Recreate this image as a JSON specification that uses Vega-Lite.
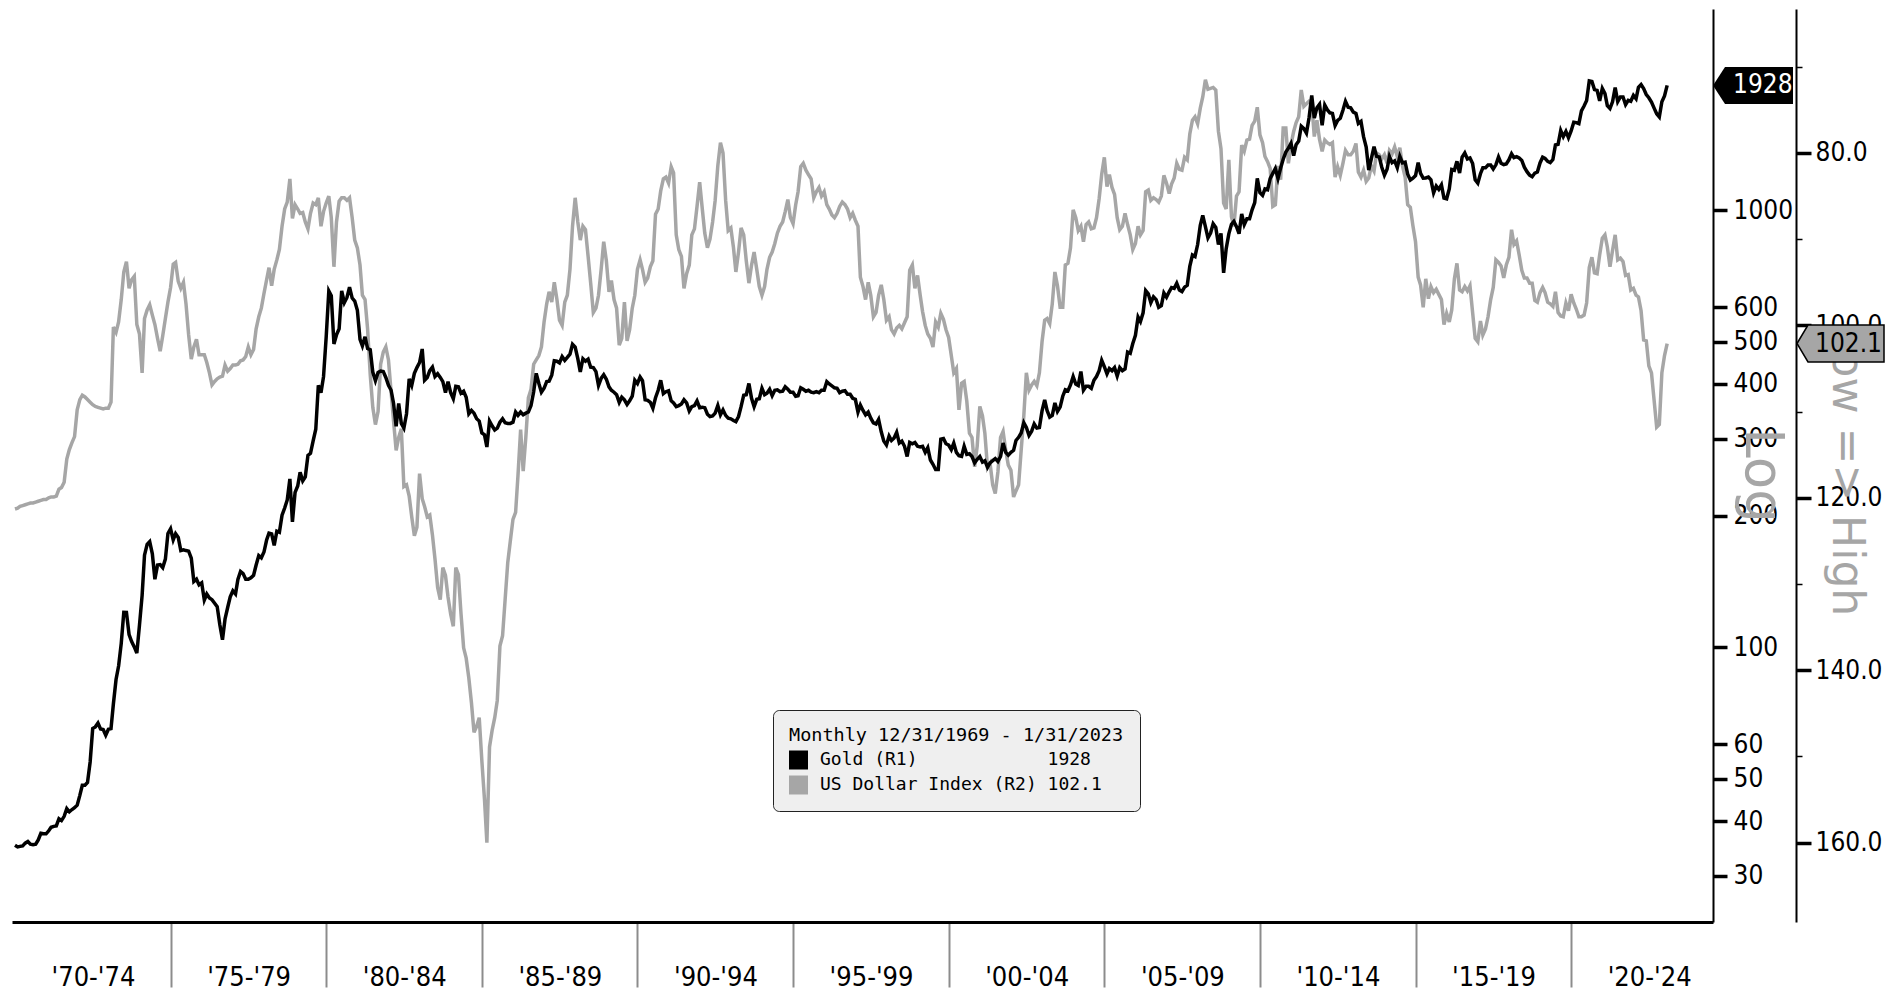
{
"$schema": "https://vega.github.io/schema/vega-lite/v6.json",
"width": 1701, "height": 913,
"autosize": {"type": "none"},
"padding": {"left": 12, "top": 9, "right": 189, "bottom": 75},
"background": "white",
"config": {"view": {"stroke": null}, "font": "DejaVu Sans Condensed, DejaVu Sans"},
"datasets": {
"tag": [{"d": "2024-07-23", "g": 1928, "u": 102.1}],
"m": [
{"d":"1970-01","g":35.2,"u":121.3},{"d":"1970-02","g":34.9,"u":121.2},{"d":"1970-03","g":35.0,"u":121.0},{"d":"1970-04","g":35.1,"u":120.9},{"d":"1970-05","g":35.6,"u":120.8},{"d":"1970-06","g":35.9,"u":120.7},{"d":"1970-07","g":35.4,"u":120.6},{"d":"1970-08","g":35.3,"u":120.6},{"d":"1970-09","g":35.4,"u":120.5},{"d":"1970-10","g":36.2,"u":120.4},{"d":"1970-11","g":37.5,"u":120.3},{"d":"1970-12","g":37.4,"u":120.2},
{"d":"1971-01","g":37.4,"u":120.2},{"d":"1971-02","g":38.0,"u":120.0},{"d":"1971-03","g":38.7,"u":119.9},{"d":"1971-04","g":38.9,"u":119.9},{"d":"1971-05","g":39.0,"u":119.8},{"d":"1971-06","g":40.5,"u":119.0},{"d":"1971-07","g":40.1,"u":118.8},{"d":"1971-08","g":41.0,"u":118.2},{"d":"1971-09","g":42.7,"u":115.5},{"d":"1971-10","g":42.0,"u":114.4},{"d":"1971-11","g":42.5,"u":113.6},{"d":"1971-12","g":42.9,"u":112.9},
{"d":"1972-01","g":43.5,"u":109.8},{"d":"1972-02","g":45.8,"u":108.6},{"d":"1972-03","g":48.3,"u":108.1},{"d":"1972-04","g":48.3,"u":108.3},{"d":"1972-05","g":49.0,"u":108.6},{"d":"1972-06","g":54.6,"u":108.9},{"d":"1972-07","g":65.1,"u":109.2},{"d":"1972-08","g":65.7,"u":109.4},{"d":"1972-09","g":67.0,"u":109.5},{"d":"1972-10","g":65.0,"u":109.6},{"d":"1972-11","g":64.8,"u":109.7},{"d":"1972-12","g":62.9,"u":109.6},
{"d":"1973-01","g":64.9,"u":109.6},{"d":"1973-02","g":65.1,"u":108.9},{"d":"1973-03","g":74.2,"u":100.2},{"d":"1973-04","g":84.3,"u":100.8},{"d":"1973-05","g":90.5,"u":99.6},{"d":"1973-06","g":102.0,"u":97.0},{"d":"1973-07","g":120.1,"u":93.8},{"d":"1973-08","g":120.0,"u":92.6},{"d":"1973-09","g":106.8,"u":95.7},{"d":"1973-10","g":103.0,"u":94.7},{"d":"1973-11","g":100.1,"u":94.3},{"d":"1973-12","g":96.9,"u":99.9},
{"d":"1974-01","g":112.3,"u":101.0},{"d":"1974-02","g":131.4,"u":105.5},{"d":"1974-03","g":162.3,"u":99.2},{"d":"1974-04","g":171.8,"u":98.2},{"d":"1974-05","g":174.3,"u":97.6},{"d":"1974-06","g":163.5,"u":98.8},{"d":"1974-07","g":143.0,"u":99.9},{"d":"1974-08","g":154.1,"u":101.5},{"d":"1974-09","g":154.5,"u":103.0},{"d":"1974-10","g":152.0,"u":101.2},{"d":"1974-11","g":159.0,"u":99.2},{"d":"1974-12","g":182.0,"u":97.3},
{"d":"1975-01","g":186.5,"u":95.6},{"d":"1975-02","g":176.0,"u":92.9},{"d":"1975-03","g":181.8,"u":92.7},{"d":"1975-04","g":178.2,"u":94.9},{"d":"1975-05","g":166.3,"u":95.7},{"d":"1975-06","g":167.0,"u":95.0},{"d":"1975-07","g":166.3,"u":97.5},{"d":"1975-08","g":165.8,"u":101.1},{"d":"1975-09","g":159.8,"u":103.9},{"d":"1975-10","g":141.3,"u":102.5},{"d":"1975-11","g":143.0,"u":101.6},{"d":"1975-12","g":138.8,"u":103.4},
{"d":"1976-01","g":140.3,"u":103.4},{"d":"1976-02","g":128.2,"u":103.4},{"d":"1976-03","g":132.3,"u":104.3},{"d":"1976-04","g":129.6,"u":105.5},{"d":"1976-05","g":128.4,"u":106.9},{"d":"1976-06","g":126.0,"u":106.5},{"d":"1976-07","g":123.8,"u":106.2},{"d":"1976-08","g":112.5,"u":106.0},{"d":"1976-09","g":104.0,"u":105.9},{"d":"1976-10","g":116.0,"u":104.6},{"d":"1976-11","g":123.2,"u":105.3},{"d":"1976-12","g":130.3,"u":105.0},
{"d":"1977-01","g":134.5,"u":104.6},{"d":"1977-02","g":132.3,"u":104.6},{"d":"1977-03","g":142.8,"u":104.5},{"d":"1977-04","g":148.9,"u":104.1},{"d":"1977-05","g":147.3,"u":104.0},{"d":"1977-06","g":143.0,"u":103.6},{"d":"1977-07","g":143.0,"u":102.5},{"d":"1977-08","g":144.1,"u":103.4},{"d":"1977-09","g":146.0,"u":102.8},{"d":"1977-10","g":154.1,"u":100.4},{"d":"1977-11","g":162.0,"u":99.0},{"d":"1977-12","g":160.1,"u":98.0},
{"d":"1978-01","g":165.0,"u":96.3},{"d":"1978-02","g":175.8,"u":94.7},{"d":"1978-03","g":182.3,"u":93.3},{"d":"1978-04","g":181.6,"u":95.4},{"d":"1978-05","g":170.9,"u":93.5},{"d":"1978-06","g":184.2,"u":92.4},{"d":"1978-07","g":183.1,"u":91.2},{"d":"1978-08","g":200.3,"u":88.5},{"d":"1978-09","g":208.1,"u":86.5},{"d":"1978-10","g":217.1,"u":85.7},{"d":"1978-11","g":242.6,"u":83.0},{"d":"1978-12","g":193.4,"u":87.6},
{"d":"1979-01","g":226.0,"u":86.0},{"d":"1979-02","g":233.7,"u":86.5},{"d":"1979-03","g":251.3,"u":87.0},{"d":"1979-04","g":240.1,"u":86.9},{"d":"1979-05","g":245.3,"u":88.0},{"d":"1979-06","g":274.6,"u":88.8},{"d":"1979-07","g":277.5,"u":87.0},{"d":"1979-08","g":296.5,"u":85.8},{"d":"1979-09","g":315.1,"u":86.0},{"d":"1979-10","g":397.3,"u":85.2},{"d":"1979-11","g":382.0,"u":88.5},{"d":"1979-12","g":415.7,"u":86.8},
{"d":"1980-01","g":512,"u":85.8},{"d":"1980-02","g":653,"u":85.0},{"d":"1980-03","g":637,"u":87.5},{"d":"1980-04","g":494,"u":93.2},{"d":"1980-05","g":518,"u":88.0},{"d":"1980-06","g":535,"u":85.6},{"d":"1980-07","g":653,"u":85.2},{"d":"1980-08","g":614,"u":85.2},{"d":"1980-09","g":631,"u":85.5},{"d":"1980-10","g":666,"u":85.2},{"d":"1980-11","g":629,"u":87.5},{"d":"1980-12","g":619,"u":90.1},
{"d":"1981-01","g":590,"u":91.0},{"d":"1981-02","g":506,"u":93.0},{"d":"1981-03","g":489,"u":96.5},{"d":"1981-04","g":513,"u":97.0},{"d":"1981-05","g":482,"u":100.4},{"d":"1981-06","g":479,"u":105.7},{"d":"1981-07","g":426,"u":109.5},{"d":"1981-08","g":407,"u":111.5},{"d":"1981-09","g":425,"u":110.0},{"d":"1981-10","g":428,"u":104.5},{"d":"1981-11","g":427,"u":103.1},{"d":"1981-12","g":414,"u":102.5},
{"d":"1982-01","g":397,"u":104.0},{"d":"1982-02","g":387,"u":107.7},{"d":"1982-03","g":362,"u":111.0},{"d":"1982-04","g":320,"u":114.5},{"d":"1982-05","g":361,"u":113.0},{"d":"1982-06","g":325,"u":112.0},{"d":"1982-07","g":317,"u":118.7},{"d":"1982-08","g":342,"u":118.5},{"d":"1982-09","g":411,"u":119.8},{"d":"1982-10","g":397,"u":122.2},{"d":"1982-11","g":423,"u":124.4},{"d":"1982-12","g":436,"u":123.4},
{"d":"1983-01","g":448,"u":117.2},{"d":"1983-02","g":481,"u":120.1},{"d":"1983-03","g":408,"u":121.0},{"d":"1983-04","g":414,"u":122.2},{"d":"1983-05","g":429,"u":122.0},{"d":"1983-06","g":437,"u":124.3},{"d":"1983-07","g":416,"u":127.1},{"d":"1983-08","g":422,"u":130.4},{"d":"1983-09","g":414,"u":131.8},{"d":"1983-10","g":405,"u":128.1},{"d":"1983-11","g":382,"u":129.0},{"d":"1983-12","g":405,"u":131.5},
{"d":"1984-01","g":382,"u":133.5},{"d":"1984-02","g":370,"u":134.9},{"d":"1984-03","g":395,"u":128.1},{"d":"1984-04","g":394,"u":128.9},{"d":"1984-05","g":381,"u":133.4},{"d":"1984-06","g":385,"u":137.4},{"d":"1984-07","g":373,"u":138.6},{"d":"1984-08","g":342,"u":140.9},{"d":"1984-09","g":348,"u":143.8},{"d":"1984-10","g":343,"u":147.2},{"d":"1984-11","g":333,"u":146.5},{"d":"1984-12","g":329,"u":145.5},
{"d":"1985-01","g":309,"u":150.5},{"d":"1985-02","g":306,"u":155.0},{"d":"1985-03","g":287,"u":160.0},{"d":"1985-04","g":329,"u":148.9},{"d":"1985-05","g":321,"u":147.0},{"d":"1985-06","g":314,"u":145.5},{"d":"1985-07","g":317,"u":143.5},{"d":"1985-08","g":327,"u":137.2},{"d":"1985-09","g":333,"u":136.0},{"d":"1985-10","g":326,"u":131.8},{"d":"1985-11","g":325,"u":127.5},{"d":"1985-12","g":325,"u":125.0},
{"d":"1986-01","g":327,"u":122.5},{"d":"1986-02","g":345,"u":121.7},{"d":"1986-03","g":339,"u":117.4},{"d":"1986-04","g":345,"u":112.1},{"d":"1986-05","g":340,"u":116.9},{"d":"1986-06","g":343,"u":113.0},{"d":"1986-07","g":345,"u":108.4},{"d":"1986-08","g":357,"u":107.4},{"d":"1986-09","g":384,"u":104.5},{"d":"1986-10","g":423,"u":104.0},{"d":"1986-11","g":401,"u":103.5},{"d":"1986-12","g":383,"u":102.5},
{"d":"1987-01","g":391,"u":99.6},{"d":"1987-02","g":405,"u":97.5},{"d":"1987-03","g":406,"u":96.1},{"d":"1987-04","g":419,"u":97.3},{"d":"1987-05","g":452,"u":95.0},{"d":"1987-06","g":451,"u":97.0},{"d":"1987-07","g":447,"u":99.4},{"d":"1987-08","g":462,"u":100.0},{"d":"1987-09","g":453,"u":97.3},{"d":"1987-10","g":460,"u":96.5},{"d":"1987-11","g":468,"u":93.5},{"d":"1987-12","g":493,"u":88.5},
{"d":"1988-01","g":486,"u":85.2},{"d":"1988-02","g":457,"u":88.0},{"d":"1988-03","g":426,"u":90.1},{"d":"1988-04","g":457,"u":88.5},{"d":"1988-05","g":451,"u":88.9},{"d":"1988-06","g":456,"u":92.0},{"d":"1988-07","g":437,"u":95.1},{"d":"1988-08","g":436,"u":98.5},{"d":"1988-09","g":427,"u":98.0},{"d":"1988-10","g":397,"u":96.5},{"d":"1988-11","g":412,"u":93.5},{"d":"1988-12","g":420,"u":90.3},
{"d":"1989-01","g":410,"u":92.5},{"d":"1989-02","g":394,"u":96.1},{"d":"1989-03","g":387,"u":94.8},{"d":"1989-04","g":383,"u":97.0},{"d":"1989-05","g":378,"u":98.0},{"d":"1989-06","g":363,"u":102.3},{"d":"1989-07","g":373,"u":101.5},{"d":"1989-08","g":368,"u":97.3},{"d":"1989-09","g":359,"u":101.8},{"d":"1989-10","g":366,"u":100.5},{"d":"1989-11","g":375,"u":98.0},{"d":"1989-12","g":408,"u":96.5},
{"d":"1990-01","g":401,"u":93.5},{"d":"1990-02","g":415,"u":92.4},{"d":"1990-03","g":407,"u":93.5},{"d":"1990-04","g":368,"u":95.0},{"d":"1990-05","g":367,"u":94.5},{"d":"1990-06","g":363,"u":93.2},{"d":"1990-07","g":352,"u":92.5},{"d":"1990-08","g":372,"u":87.1},{"d":"1990-09","g":387,"u":86.5},{"d":"1990-10","g":408,"u":84.4},{"d":"1990-11","g":380,"u":83.0},{"d":"1990-12","g":384,"u":82.8},
{"d":"1991-01","g":386,"u":83.5},{"d":"1991-02","g":366,"u":81.6},{"d":"1991-03","g":362,"u":82.3},{"d":"1991-04","g":355,"u":89.5},{"d":"1991-05","g":357,"u":91.2},{"d":"1991-06","g":360,"u":92.0},{"d":"1991-07","g":368,"u":95.7},{"d":"1991-08","g":362,"u":94.0},{"d":"1991-09","g":347,"u":93.0},{"d":"1991-10","g":355,"u":89.5},{"d":"1991-11","g":357,"u":88.8},{"d":"1991-12","g":366,"u":86.2},
{"d":"1992-01","g":353,"u":83.4},{"d":"1992-02","g":354,"u":86.5},{"d":"1992-03","g":353,"u":89.3},{"d":"1992-04","g":341,"u":91.0},{"d":"1992-05","g":337,"u":90.0},{"d":"1992-06","g":338,"u":88.0},{"d":"1992-07","g":343,"u":85.5},{"d":"1992-08","g":357,"u":81.5},{"d":"1992-09","g":340,"u":78.8},{"d":"1992-10","g":349,"u":80.0},{"d":"1992-11","g":339,"u":85.5},{"d":"1992-12","g":334,"u":89.0},
{"d":"1993-01","g":333,"u":88.7},{"d":"1993-02","g":330,"u":91.0},{"d":"1993-03","g":328,"u":93.8},{"d":"1993-04","g":337,"u":91.5},{"d":"1993-05","g":355,"u":88.7},{"d":"1993-06","g":377,"u":89.5},{"d":"1993-07","g":378,"u":92.5},{"d":"1993-08","g":401,"u":95.1},{"d":"1993-09","g":371,"u":93.0},{"d":"1993-10","g":355,"u":91.5},{"d":"1993-11","g":369,"u":93.5},{"d":"1993-12","g":370,"u":95.5},
{"d":"1994-01","g":391,"u":96.5},{"d":"1994-02","g":378,"u":95.5},{"d":"1994-03","g":381,"u":93.5},{"d":"1994-04","g":389,"u":92.1},{"d":"1994-05","g":376,"u":91.5},{"d":"1994-06","g":387,"u":90.5},{"d":"1994-07","g":388,"u":89.3},{"d":"1994-08","g":384,"u":88.5},{"d":"1994-09","g":385,"u":88.0},{"d":"1994-10","g":394,"u":86.8},{"d":"1994-11","g":389,"u":85.4},{"d":"1994-12","g":383,"u":87.5},
{"d":"1995-01","g":383,"u":88.2},{"d":"1995-02","g":375,"u":86.0},{"d":"1995-03","g":376,"u":84.5},{"d":"1995-04","g":392,"u":81.6},{"d":"1995-05","g":389,"u":81.2},{"d":"1995-06","g":385,"u":82.0},{"d":"1995-07","g":387,"u":82.5},{"d":"1995-08","g":383,"u":83.0},{"d":"1995-09","g":382,"u":85.2},{"d":"1995-10","g":384,"u":84.5},{"d":"1995-11","g":382,"u":84.0},{"d":"1995-12","g":387,"u":85.0},
{"d":"1996-01","g":387,"u":84.5},{"d":"1996-02","g":405,"u":86.0},{"d":"1996-03","g":400,"u":86.5},{"d":"1996-04","g":396,"u":87.2},{"d":"1996-05","g":392,"u":87.5},{"d":"1996-06","g":391,"u":87.0},{"d":"1996-07","g":382,"u":86.2},{"d":"1996-08","g":385,"u":85.7},{"d":"1996-09","g":386,"u":86.0},{"d":"1996-10","g":379,"u":86.5},{"d":"1996-11","g":379,"u":87.5},{"d":"1996-12","g":371,"u":87.0},
{"d":"1997-01","g":369,"u":87.8},{"d":"1997-02","g":345,"u":88.5},{"d":"1997-03","g":358,"u":94.4},{"d":"1997-04","g":348,"u":95.5},{"d":"1997-05","g":340,"u":97.0},{"d":"1997-06","g":345,"u":95.0},{"d":"1997-07","g":334,"u":96.5},{"d":"1997-08","g":326,"u":99.0},{"d":"1997-09","g":324,"u":98.5},{"d":"1997-10","g":332,"u":96.5},{"d":"1997-11","g":311,"u":95.3},{"d":"1997-12","g":296,"u":97.0},
{"d":"1998-01","g":290,"u":99.4},{"d":"1998-02","g":304,"u":99.0},{"d":"1998-03","g":297,"u":100.5},{"d":"1998-04","g":301,"u":101.0},{"d":"1998-05","g":310,"u":100.3},{"d":"1998-06","g":293,"u":100.0},{"d":"1998-07","g":296,"u":100.4},{"d":"1998-08","g":288,"u":99.7},{"d":"1998-09","g":273,"u":99.0},{"d":"1998-10","g":294,"u":93.6},{"d":"1998-11","g":292,"u":93.0},{"d":"1998-12","g":294,"u":95.7},
{"d":"1999-01","g":288,"u":94.2},{"d":"1999-02","g":287,"u":96.5},{"d":"1999-03","g":288,"u":98.4},{"d":"1999-04","g":279,"u":100.0},{"d":"1999-05","g":286,"u":101.0},{"d":"1999-06","g":268,"u":101.5},{"d":"1999-07","g":262,"u":102.5},{"d":"1999-08","g":255,"u":99.6},{"d":"1999-09","g":255,"u":100.2},{"d":"1999-10","g":299,"u":98.6},{"d":"1999-11","g":300,"u":99.3},{"d":"1999-12","g":292,"u":100.5},
{"d":"2000-01","g":290,"u":101.4},{"d":"2000-02","g":283,"u":103.5},{"d":"2000-03","g":293,"u":105.5},{"d":"2000-04","g":279,"u":105.0},{"d":"2000-05","g":274,"u":109.8},{"d":"2000-06","g":273,"u":106.7},{"d":"2000-07","g":288,"u":106.5},{"d":"2000-08","g":276,"u":108.8},{"d":"2000-09","g":277,"u":112.5},{"d":"2000-10","g":273,"u":113.0},{"d":"2000-11","g":264,"u":116.4},{"d":"2000-12","g":269,"u":114.0},
{"d":"2001-01","g":273,"u":109.4},{"d":"2001-02","g":265,"u":110.5},{"d":"2001-03","g":267,"u":112.5},{"d":"2001-04","g":258,"u":116.5},{"d":"2001-05","g":264,"u":116.0},{"d":"2001-06","g":267,"u":118.5},{"d":"2001-07","g":270,"u":119.5},{"d":"2001-08","g":266,"u":117.0},{"d":"2001-09","g":273,"u":113.0},{"d":"2001-10","g":293,"u":112.3},{"d":"2001-11","g":279,"u":114.5},{"d":"2001-12","g":275,"u":116.2},
{"d":"2002-01","g":279,"u":116.8},{"d":"2002-02","g":282,"u":119.9},{"d":"2002-03","g":297,"u":119.2},{"d":"2002-04","g":302,"u":118.5},{"d":"2002-05","g":309,"u":114.5},{"d":"2002-06","g":326,"u":110.5},{"d":"2002-07","g":318,"u":105.5},{"d":"2002-08","g":305,"u":107.5},{"d":"2002-09","g":312,"u":106.9},{"d":"2002-10","g":324,"u":106.5},{"d":"2002-11","g":317,"u":107.0},{"d":"2002-12","g":318,"u":105.5},
{"d":"2003-01","g":347,"u":101.9},{"d":"2003-02","g":368,"u":99.4},{"d":"2003-03","g":348,"u":99.2},{"d":"2003-04","g":336,"u":99.8},{"d":"2003-05","g":339,"u":97.5},{"d":"2003-06","g":362,"u":93.8},{"d":"2003-07","g":346,"u":95.4},{"d":"2003-08","g":354,"u":97.9},{"d":"2003-09","g":375,"u":97.9},{"d":"2003-10","g":388,"u":93.0},{"d":"2003-11","g":386,"u":92.8},{"d":"2003-12","g":398,"u":91.0},
{"d":"2004-01","g":416,"u":86.6},{"d":"2004-02","g":400,"u":87.5},{"d":"2004-03","g":397,"u":89.0},{"d":"2004-04","g":427,"u":88.5},{"d":"2004-05","g":387,"u":90.3},{"d":"2004-06","g":395,"u":88.3},{"d":"2004-07","g":395,"u":88.0},{"d":"2004-08","g":391,"u":88.8},{"d":"2004-09","g":408,"u":88.7},{"d":"2004-10","g":416,"u":87.5},{"d":"2004-11","g":429,"u":85.3},{"d":"2004-12","g":453,"u":82.5},
{"d":"2005-01","g":438,"u":80.5},{"d":"2005-02","g":422,"u":83.9},{"d":"2005-03","g":434,"u":82.5},{"d":"2005-04","g":429,"u":84.0},{"d":"2005-05","g":436,"u":84.8},{"d":"2005-06","g":417,"u":87.5},{"d":"2005-07","g":436,"u":88.9},{"d":"2005-08","g":429,"u":88.5},{"d":"2005-09","g":433,"u":87.0},{"d":"2005-10","g":473,"u":88.3},{"d":"2005-11","g":470,"u":89.5},{"d":"2005-12","g":495,"u":91.2},
{"d":"2006-01","g":517,"u":90.5},{"d":"2006-02","g":569,"u":88.5},{"d":"2006-03","g":556,"u":89.5},{"d":"2006-04","g":582,"u":89.0},{"d":"2006-05","g":654,"u":84.5},{"d":"2006-06","g":643,"u":84.3},{"d":"2006-07","g":614,"u":85.5},{"d":"2006-08","g":633,"u":85.2},{"d":"2006-09","g":624,"u":85.4},{"d":"2006-10","g":599,"u":85.7},{"d":"2006-11","g":604,"u":85.0},{"d":"2006-12","g":646,"u":82.6},
{"d":"2007-01","g":632,"u":83.5},{"d":"2007-02","g":650,"u":84.7},{"d":"2007-03","g":665,"u":83.6},{"d":"2007-04","g":662,"u":82.9},{"d":"2007-05","g":680,"u":81.2},{"d":"2007-06","g":656,"u":81.9},{"d":"2007-07","g":651,"u":82.0},{"d":"2007-08","g":666,"u":80.5},{"d":"2007-09","g":673,"u":80.8},{"d":"2007-10","g":743,"u":77.8},{"d":"2007-11","g":789,"u":76.2},{"d":"2007-12","g":783,"u":75.8},
{"d":"2008-01","g":834,"u":76.6},{"d":"2008-02","g":923,"u":74.8},{"d":"2008-03","g":972,"u":73.5},{"d":"2008-04","g":916,"u":71.5},{"d":"2008-05","g":864,"u":72.6},{"d":"2008-06","g":886,"u":72.5},{"d":"2008-07","g":930,"u":72.4},{"d":"2008-08","g":912,"u":72.7},{"d":"2008-09","g":834,"u":77.5},{"d":"2008-10","g":884,"u":79.5},{"d":"2008-11","g":718,"u":85.8},{"d":"2008-12","g":816,"u":86.5},
{"d":"2009-01","g":882,"u":80.8},{"d":"2009-02","g":928,"u":87.4},{"d":"2009-03","g":942,"u":88.5},{"d":"2009-04","g":916,"u":85.0},{"d":"2009-05","g":883,"u":84.5},{"d":"2009-06","g":980,"u":79.1},{"d":"2009-07","g":926,"u":79.8},{"d":"2009-08","g":955,"u":78.5},{"d":"2009-09","g":955,"u":78.4},{"d":"2009-10","g":1001,"u":76.8},{"d":"2009-11","g":1040,"u":76.3},{"d":"2009-12","g":1182,"u":74.7},
{"d":"2010-01","g":1096,"u":77.9},{"d":"2010-02","g":1081,"u":78.8},{"d":"2010-03","g":1118,"u":80.4},{"d":"2010-04","g":1113,"u":81.0},{"d":"2010-05","g":1180,"u":81.8},{"d":"2010-06","g":1213,"u":86.2},{"d":"2010-07","g":1244,"u":86.0},{"d":"2010-08","g":1181,"u":81.5},{"d":"2010-09","g":1248,"u":83.1},{"d":"2010-10","g":1307,"u":77.1},{"d":"2010-11","g":1357,"u":77.1},{"d":"2010-12","g":1386,"u":81.2},
{"d":"2011-01","g":1421,"u":79.0},{"d":"2011-02","g":1332,"u":77.5},{"d":"2011-03","g":1410,"u":76.5},{"d":"2011-04","g":1439,"u":75.8},{"d":"2011-05","g":1556,"u":72.7},{"d":"2011-06","g":1536,"u":74.6},{"d":"2011-07","g":1500,"u":74.3},{"d":"2011-08","g":1628,"u":74.0},{"d":"2011-09","g":1828,"u":74.2},{"d":"2011-10","g":1624,"u":78.1},{"d":"2011-11","g":1715,"u":76.2},{"d":"2011-12","g":1746,"u":78.4},
{"d":"2012-01","g":1563,"u":79.8},{"d":"2012-02","g":1738,"u":78.5},{"d":"2012-03","g":1697,"u":78.8},{"d":"2012-04","g":1669,"u":79.0},{"d":"2012-05","g":1664,"u":78.8},{"d":"2012-06","g":1561,"u":82.8},{"d":"2012-07","g":1604,"u":81.6},{"d":"2012-08","g":1622,"u":82.6},{"d":"2012-09","g":1692,"u":81.2},{"d":"2012-10","g":1773,"u":79.7},{"d":"2012-11","g":1719,"u":80.2},{"d":"2012-12","g":1714,"u":80.2},
{"d":"2013-01","g":1675,"u":79.8},{"d":"2013-02","g":1663,"u":78.9},{"d":"2013-03","g":1578,"u":82.2},{"d":"2013-04","g":1595,"u":82.8},{"d":"2013-05","g":1472,"u":82.0},{"d":"2013-06","g":1393,"u":83.3},{"d":"2013-07","g":1234,"u":82.9},{"d":"2013-08","g":1312,"u":81.5},{"d":"2013-09","g":1396,"u":82.1},{"d":"2013-10","g":1327,"u":80.0},{"d":"2013-11","g":1323,"u":80.2},{"d":"2013-12","g":1253,"u":80.7},
{"d":"2014-01","g":1202,"u":80.2},{"d":"2014-02","g":1240,"u":81.2},{"d":"2014-03","g":1326,"u":79.7},{"d":"2014-04","g":1284,"u":80.1},{"d":"2014-05","g":1296,"u":79.3},{"d":"2014-06","g":1250,"u":80.4},{"d":"2014-07","g":1327,"u":79.4},{"d":"2014-08","g":1282,"u":81.5},{"d":"2014-09","g":1287,"u":82.8},{"d":"2014-10","g":1208,"u":86.0},{"d":"2014-11","g":1171,"u":86.3},{"d":"2014-12","g":1183,"u":88.4},
{"d":"2015-01","g":1199,"u":90.3},{"d":"2015-02","g":1284,"u":94.4},{"d":"2015-03","g":1213,"u":95.3},{"d":"2015-04","g":1183,"u":97.9},{"d":"2015-05","g":1184,"u":94.6},{"d":"2015-06","g":1190,"u":96.9},{"d":"2015-07","g":1172,"u":95.5},{"d":"2015-08","g":1095,"u":96.2},{"d":"2015-09","g":1135,"u":95.8},{"d":"2015-10","g":1115,"u":96.4},{"d":"2015-11","g":1142,"u":97.0},{"d":"2015-12","g":1065,"u":99.9},
{"d":"2016-01","g":1061,"u":98.6},{"d":"2016-02","g":1118,"u":99.6},{"d":"2016-03","g":1238,"u":98.2},{"d":"2016-04","g":1233,"u":94.6},{"d":"2016-05","g":1293,"u":92.8},{"d":"2016-06","g":1215,"u":95.9},{"d":"2016-07","g":1322,"u":96.1},{"d":"2016-08","g":1351,"u":95.5},{"d":"2016-09","g":1309,"u":96.0},{"d":"2016-10","g":1316,"u":95.4},{"d":"2016-11","g":1277,"u":98.5},{"d":"2016-12","g":1173,"u":101.5},
{"d":"2017-01","g":1152,"u":101.9},{"d":"2017-02","g":1211,"u":99.5},{"d":"2017-03","g":1249,"u":101.1},{"d":"2017-04","g":1249,"u":100.4},{"d":"2017-05","g":1268,"u":99.0},{"d":"2017-06","g":1268,"u":97.0},{"d":"2017-07","g":1242,"u":95.6},{"d":"2017-08","g":1269,"u":92.4},{"d":"2017-09","g":1322,"u":92.7},{"d":"2017-10","g":1280,"u":93.1},{"d":"2017-11","g":1271,"u":94.5},{"d":"2017-12","g":1275,"u":93.0},
{"d":"2018-01","g":1303,"u":92.1},{"d":"2018-02","g":1345,"u":88.9},{"d":"2018-03","g":1318,"u":90.6},{"d":"2018-04","g":1325,"u":90.2},{"d":"2018-05","g":1316,"u":91.8},{"d":"2018-06","g":1299,"u":93.6},{"d":"2018-07","g":1253,"u":94.5},{"d":"2018-08","g":1224,"u":94.5},{"d":"2018-09","g":1202,"u":95.1},{"d":"2018-10","g":1192,"u":95.1},{"d":"2018-11","g":1215,"u":97.1},{"d":"2018-12","g":1222,"u":97.3},
{"d":"2019-01","g":1282,"u":96.2},{"d":"2019-02","g":1321,"u":95.6},{"d":"2019-03","g":1313,"u":96.2},{"d":"2019-04","g":1292,"u":97.3},{"d":"2019-05","g":1284,"u":97.5},{"d":"2019-06","g":1305,"u":97.8},{"d":"2019-07","g":1409,"u":96.1},{"d":"2019-08","g":1414,"u":98.5},{"d":"2019-09","g":1520,"u":98.9},{"d":"2019-10","g":1472,"u":99.0},{"d":"2019-11","g":1513,"u":97.4},{"d":"2019-12","g":1464,"u":98.3},
{"d":"2020-01","g":1517,"u":96.4},{"d":"2020-02","g":1589,"u":97.4},{"d":"2020-03","g":1585,"u":98.1},{"d":"2020-04","g":1577,"u":99.0},{"d":"2020-05","g":1687,"u":99.0},{"d":"2020-06","g":1730,"u":98.8},{"d":"2020-07","g":1781,"u":97.4},{"d":"2020-08","g":1975,"u":93.3},{"d":"2020-09","g":1968,"u":92.1},{"d":"2020-10","g":1886,"u":93.9},{"d":"2020-11","g":1879,"u":94.0},{"d":"2020-12","g":1777,"u":91.8},
{"d":"2021-01","g":1898,"u":89.9},{"d":"2021-02","g":1847,"u":89.5},{"d":"2021-03","g":1734,"u":90.9},{"d":"2021-04","g":1708,"u":93.2},{"d":"2021-05","g":1769,"u":91.3},{"d":"2021-06","g":1907,"u":89.5},{"d":"2021-07","g":1770,"u":92.4},{"d":"2021-08","g":1814,"u":92.2},{"d":"2021-09","g":1814,"u":92.6},{"d":"2021-10","g":1743,"u":94.2},{"d":"2021-11","g":1783,"u":94.1},{"d":"2021-12","g":1774,"u":95.9},
{"d":"2022-01","g":1829,"u":95.7},{"d":"2022-02","g":1797,"u":96.5},{"d":"2022-03","g":1909,"u":96.7},{"d":"2022-04","g":1937,"u":98.3},{"d":"2022-05","g":1897,"u":101.7},{"d":"2022-06","g":1838,"u":101.8},{"d":"2022-07","g":1807,"u":104.7},{"d":"2022-08","g":1766,"u":105.5},{"d":"2022-09","g":1711,"u":108.7},{"d":"2022-10","g":1661,"u":111.8},{"d":"2022-11","g":1633,"u":111.5},{"d":"2022-12","g":1769,"u":105.5},
{"d":"2023-01","g":1824,"u":103.5},{"d":"2023-02","g":1928,"u":102.1}
]
},
"encoding": {
  "x": {"field": "d", "type": "temporal",
    "scale": {"domain": [{"year": 1969, "month": 11, "date": 27}, {"year": 2024, "month": 7, "date": 23}], "nice": false},
    "axis": {
      "title": null, "grid": false,
      "values": [{"year":1970,"month":1,"date":1},{"year":1975,"month":1,"date":1},{"year":1980,"month":1,"date":1},{"year":1985,"month":1,"date":1},{"year":1990,"month":1,"date":1},{"year":1995,"month":1,"date":1},{"year":2000,"month":1,"date":1},{"year":2005,"month":1,"date":1},{"year":2010,"month":1,"date":1},{"year":2015,"month":1,"date":1},{"year":2020,"month":1,"date":1}],
      "labelExpr": "\"'\" + format(year(datum.value) % 100, '02d') + \"-'\" + format((year(datum.value) + 4) % 100, '02d')",
      "domainColor": "black", "domainWidth": 3,
      "tickColor": {"condition": {"test": "year(datum.value) == 1970", "value": "black"}, "value": "#8c8c8c"},
      "tickSize": 65,
      "tickWidth": {"condition": {"test": "year(datum.value) == 1970", "value": 0}, "value": 2},
      "labelOffset": 78, "labelPadding": -2, "labelBaseline": "alphabetic",
      "labelFontSize": 27, "labelFont": "DejaVu Sans Condensed, DejaVu Sans", "labelColor": "black",
      "labelOverlap": false, "labelFlush": false, "labelBound": false
    }
  }
},
"layer": [
  {
    "encoding": {
      "y": {"field": "u", "type": "quantitative",
        "scale": {"domain": [63.3, 169.2], "reverse": true, "nice": false, "zero": false},
        "axis": {
          "orient": "right", "offset": 83, "grid": false,
          "values": [70, 80, 90, 100, 110, 120, 130, 140, 150, 160],
          "labelExpr": "datum.value % 20 == 0 ? format(datum.value, '.1f') : ''",
          "domainColor": "black", "domainWidth": 2,
          "tickColor": "black",
          "tickSize": {"condition": {"test": "datum.value % 20 == 0", "value": 15}, "value": 6},
          "tickWidth": {"condition": {"test": "datum.value % 20 == 0", "value": 3.5}, "value": 1.5},
          "labelPadding": 4, "labelFontSize": 26, "labelColor": "black", "labelBaseline": "middle",
          "labelFont": "DejaVu Sans Condensed, DejaVu Sans",
          "labelOverlap": false, "labelFlush": false, "labelBound": false,
          "title": "Low => High", "titleColor": "#a6a6a6", "titleFontSize": 44, "titleFont": "DejaVu Sans",
          "titleFontWeight": "normal", "titleAngle": 90, "titleX": 36, "titleY": 462,
          "titleAlign": "center", "titleBaseline": "alphabetic"
        }
      }
    },
    "layer": [
      {
        "data": {"name": "m"},
        "mark": {"type": "line", "strokeWidth": 3.5},
        "encoding": {
          "color": {"datum": "US Dollar Index (R2)", "type": "nominal",
            "scale": {"domain": ["Gold (R1)", "US Dollar Index (R2)"], "range": ["black", "#a6a6a6"]},
            "legend": {
              "orient": "none", "legendX": 761, "legendY": 701,
              "title": "Monthly 12/31/1969 - 1/31/2023",
              "titleFont": "DejaVu Sans Mono", "titleFontSize": 18.5, "titleFontWeight": "normal", "titleColor": "black", "titlePadding": 6, "titleLimit": 600,
              "labelFont": "DejaVu Sans Mono", "labelFontSize": 18, "labelColor": "black", "labelLimit": 600,
              "labelExpr": "datum.label == 'Gold (R1)' ? 'Gold (R1)\u00a0\u00a0\u00a0\u00a0\u00a0\u00a0\u00a0\u00a0\u00a0\u00a0\u00a0\u00a01928' : 'US Dollar Index (R2)\u00a0102.1'",
              "symbolType": "square", "symbolSize": 361, "symbolStrokeWidth": 0, "labelOffset": 12, "rowPadding": 6,
              "padding": 16, "fillColor": "#efefef", "strokeColor": "#222222", "cornerRadius": 6,
              "encode": {"symbols": {"update": {"fill": {"scale": "color", "field": "value"}, "stroke": {"value": "transparent"}, "opacity": {"value": 1}}}}
            }
          }
        }
      },
      {
        "data": {"name": "tag"},
        "mark": {"type": "point", "shape": "M2.1,0L2.375,-0.4625L4.275,-0.4625L4.275,0.4625L2.375,0.4625Z", "size": 6400, "filled": true, "fill": "#a6a6a6", "stroke": "black", "strokeWidth": 1.5, "opacity": 1}
      },
      {
        "data": {"name": "tag"},
        "mark": {"type": "text", "dx": 102, "align": "left", "baseline": "middle", "fontSize": 26, "color": "black", "font": "DejaVu Sans Condensed, DejaVu Sans"},
        "encoding": {"text": {"field": "u", "type": "quantitative", "format": ".1f"}}
      }
    ]
  },
  {
    "encoding": {
      "y": {"field": "g", "type": "quantitative",
        "scale": {"type": "log", "domain": [23.5, 2884], "nice": false, "zero": false},
        "axis": {
          "orient": "right", "offset": 0, "grid": false,
          "values": [30, 40, 50, 60, 100, 200, 300, 400, 500, 600, 1000],
          "labelExpr": "format(datum.value, 'd')",
          "domainColor": "black", "domainWidth": 2,
          "tickColor": "black", "tickSize": 14, "tickWidth": 3.5,
          "labelPadding": 6, "labelFontSize": 26, "labelColor": "black", "labelBaseline": "middle",
          "labelFont": "DejaVu Sans Condensed, DejaVu Sans",
          "labelOverlap": false, "labelFlush": false, "labelBound": false,
          "title": "Log", "titleColor": "#a6a6a6", "titleFontSize": 53, "titleFont": "DejaVu Sans",
          "titleFontWeight": "normal", "titleAngle": 90, "titleX": 32, "titleY": 466,
          "titleAlign": "center", "titleBaseline": "alphabetic"
        }
      }
    },
    "layer": [
      {
        "data": {"name": "m"},
        "mark": {"type": "line", "strokeWidth": 3.5},
        "encoding": {
          "color": {"datum": "Gold (R1)", "type": "nominal",
            "scale": {"domain": ["Gold (R1)", "US Dollar Index (R2)"], "range": ["black", "#a6a6a6"]},
            "legend": {
              "orient": "none", "legendX": 761, "legendY": 701,
              "title": "Monthly 12/31/1969 - 1/31/2023",
              "titleFont": "DejaVu Sans Mono", "titleFontSize": 18.5, "titleFontWeight": "normal", "titleColor": "black", "titlePadding": 6, "titleLimit": 600,
              "labelFont": "DejaVu Sans Mono", "labelFontSize": 18, "labelColor": "black", "labelLimit": 600,
              "labelExpr": "datum.label == 'Gold (R1)' ? 'Gold (R1)\u00a0\u00a0\u00a0\u00a0\u00a0\u00a0\u00a0\u00a0\u00a0\u00a0\u00a0\u00a01928' : 'US Dollar Index (R2)\u00a0102.1'",
              "symbolType": "square", "symbolSize": 361, "symbolStrokeWidth": 0, "labelOffset": 12, "rowPadding": 6,
              "padding": 16, "fillColor": "#efefef", "strokeColor": "#222222", "cornerRadius": 6,
              "encode": {"symbols": {"update": {"fill": {"scale": "color", "field": "value"}, "stroke": {"value": "transparent"}, "opacity": {"value": 1}}}}
            }
          }
        }
      },
      {
        "data": {"name": "tag"},
        "mark": {"type": "point", "shape": "M0,0L0.3,-0.4625L2,-0.4625L2,0.4625L0.3,0.4625Z", "size": 6400, "filled": true, "fill": "black", "strokeWidth": 0, "opacity": 1}
      },
      {
        "data": {"name": "tag"},
        "mark": {"type": "text", "dx": 20, "align": "left", "baseline": "middle", "fontSize": 26, "color": "white", "font": "DejaVu Sans Condensed, DejaVu Sans"},
        "encoding": {"text": {"field": "g", "type": "quantitative", "format": "d"}}
      }
    ]
  }
],
"resolve": {"scale": {"y": "independent"}, "axis": {"y": "independent"}}
}
